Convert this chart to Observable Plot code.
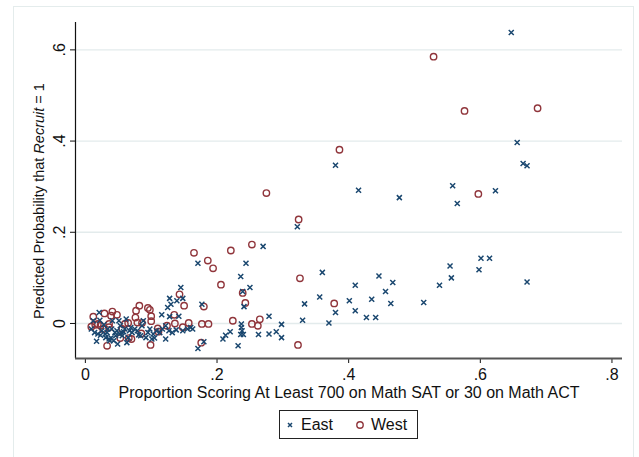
<!DOCTYPE html>
<html>
<head>
<meta charset="utf-8">
<script src="https://cdn.jsdelivr.net/npm/d3@7"></script>
<script src="https://cdn.jsdelivr.net/npm/@observablehq/plot@0.6"></script>
<style>
  body { margin: 0; background: #fff; font-family: "Liberation Sans", Arial, sans-serif; }
  #wrap { position: relative; width: 639px; height: 457px; overflow: hidden; background: #fff; }
  #border { position: absolute; left: 13px; top: 6px; width: 621px; height: 470px; border: 1px solid #e4ecec; box-sizing: border-box; }
  #chart { position: absolute; left: 0; top: 0; }
  #legend { position: absolute; left: 279px; top: 410px; width: 139px; height: 29px; border: 1px solid #222; box-sizing: border-box;
            display: flex; align-items: center; font-size: 16px; color: #111; background: #fff; }
  #legend .item { display: flex; align-items: center; }
  #legend svg { display: block; }
</style>
</head>
<body>
<div id="wrap">
  <div id="border"></div>
  <div id="chart"></div>
  <div id="legend"></div>
</div>
<script>
// ---- Data ----
const seriesNames = ["East", "West"];
const seriesColors = ["#1a476f", "#90353b"];
const xTicks = [0, 0.2, 0.4, 0.6, 0.8];
const yTicks = [0, 0.2, 0.4, 0.6];
const xLabel = "Proportion Scoring At Least 700 on Math SAT or 30 on Math ACT";

const eastX = [0.647,0.656,0.665,0.671,0.623,0.558,0.565,0.415,0.477,0.380,0.322,0.270,0.601,0.614,0.598,0.671,0.554,0.556,0.538,0.514,0.467,0.446,0.456,0.464,0.435,0.441,0.427,0.410,0.410,0.401,0.380,0.370,0.360,0.356,0.333,0.330,0.298,0.298,0.290,0.279,0.279,0.263,0.250,0.244,0.236,0.241,0.239,0.237,0.237,0.238,0.240,0.236,0.232,0.220,0.213,0.209,0.180,0.171,0.171,0.177,0.145,0.148,0.139,0.128,0.130,0.125,0.142,0.128,0.116,0.122,
  0.009,0.012,0.014,0.017,0.019,0.021,0.022,0.023,0.025,0.028,0.030,0.031,0.033,0.034,0.036,0.037,0.039,0.040,0.041,0.043,0.045,0.046,0.048,0.049,0.051,0.052,0.053,0.055,0.056,0.058,0.060,0.062,0.063,0.065,0.067,0.069,0.071,0.075,0.079,0.081,0.084,0.086,0.088,0.092,0.095,0.098,0.101,0.103,0.105,0.108,0.113,0.117,0.122,0.127,0.132,0.138,0.148,0.155,0.160,0.163];
const eastY = [0.638,0.397,0.351,0.346,0.291,0.302,0.263,0.292,0.276,0.347,0.212,0.169,0.143,0.143,0.118,0.091,0.126,0.100,0.084,0.046,0.090,0.104,0.070,0.044,0.053,0.013,0.013,0.028,0.084,0.050,0.024,0.001,0.112,0.058,0.043,0.007,-0.002,-0.031,-0.018,0.016,-0.023,-0.024,0.079,0.132,0.103,0.037,0.070,-0.001,-0.009,-0.016,-0.024,-0.024,-0.049,-0.018,-0.026,-0.034,-0.040,-0.055,0.132,0.042,0.079,0.055,0.050,0.055,0.042,0.035,0.016,0.015,0.019,-0.034,
  -0.012,0.006,-0.020,-0.039,-0.023,0.024,0.007,-0.026,-0.016,-0.003,-0.023,-0.031,-0.020,-0.012,-0.034,-0.038,-0.032,-0.012,0.006,-0.038,-0.020,-0.027,-0.016,-0.045,0.006,-0.023,-0.005,-0.020,-0.027,-0.018,-0.012,0.010,-0.042,-0.031,-0.016,-0.009,-0.020,-0.012,-0.016,-0.025,-0.027,-0.005,0.006,-0.031,-0.020,-0.012,-0.034,-0.023,-0.032,-0.016,-0.020,-0.012,-0.005,-0.016,-0.020,-0.014,-0.016,-0.012,-0.009,-0.012];

const westX = [0.529,0.576,0.687,0.386,0.597,0.275,0.324,0.253,0.221,0.165,0.186,0.194,0.206,0.326,0.239,0.243,0.378,0.323,0.224,0.253,0.265,0.262,0.177,0.187,0.180,0.176,0.143,0.150,0.135,0.136,0.148,0.157,0.124,0.110,0.111,0.099,0.100,0.100,0.086,0.085,0.082,0.095,0.098,0.077,0.076,0.079,0.065,0.060,0.066,0.070,0.053,0.056,0.048,0.041,0.039,0.036,0.036,0.029,0.033,0.027,0.023,0.019,0.012,0.009,0.015];
const westY = [0.585,0.466,0.472,0.381,0.284,0.286,0.228,0.173,0.160,0.155,0.138,0.121,0.085,0.099,0.067,0.045,0.044,-0.047,0.006,-0.001,0.009,-0.005,-0.001,-0.001,0.037,-0.042,0.064,0.039,0.019,0.000,-0.008,0.001,-0.005,-0.011,-0.018,-0.047,0.016,0.005,0.001,-0.022,0.039,0.034,0.030,0.028,0.013,0.002,0.001,-0.001,-0.032,-0.034,-0.032,-0.012,0.019,0.026,0.017,-0.001,-0.008,0.022,-0.049,-0.012,-0.005,-0.001,0.015,-0.007,-0.003];

const xDomain = [-0.015, 0.816];
const yDomain = [-0.0768, 0.66];

const east = eastX.map((x, i) => ({x, y: eastY[i]}));
const west = westX.map((x, i) => ({x, y: westY[i]}));
const fmt = d => d === 0 ? "0" : String(d).replace(/^0\./, ".").replace(/^-0\./, "-.");

const plot = Plot.plot({
  width: 639,
  height: 410,
  marginLeft: 75,
  marginRight: 17,
  marginTop: 22,
  marginBottom: 52,
  style: {fontFamily: "'Liberation Sans', Arial, sans-serif", background: "transparent", color: "#111", overflow: "visible"},
  x: {domain: xDomain},
  y: {domain: yDomain},
  marks: [
    Plot.gridY(yTicks, {stroke: "#e3ebec", strokeOpacity: 1, strokeWidth: 1.3}),
    Plot.axisX(xTicks, {tickSize: 5, tickPadding: 5, tickFormat: fmt, fontSize: 16, stroke: "#111",
      label: xLabel, labelAnchor: "center", labelArrow: "none", labelOffset: 39}),
    Plot.axisY(yTicks, {tickSize: 5, tickPadding: 6, tickFormat: fmt, fontSize: 16, tickRotate: -90, label: null, stroke: "#111"}),
    Plot.ruleX([xDomain[0]], {stroke: "#111", strokeWidth: 1.2}),
    Plot.ruleY([yDomain[0]], {stroke: "#555", strokeWidth: 2}),
    Plot.dot(west, {x: "x", y: "y", r: 3.2, stroke: seriesColors[1], strokeWidth: 1.4, fill: "none", symbol: "circle"}),
    Plot.dot(east, {x: "x", y: "y", r: 2.4, stroke: seriesColors[0], strokeWidth: 1.5, symbol: "times"})
  ]
});
document.getElementById("chart").appendChild(plot);

// y-axis title with italic "Recruit"
const svg = d3.select(plot);
const yt = svg.append("text")
  .attr("transform", `translate(44, 201) rotate(-90)`)
  .attr("text-anchor", "middle")
  .attr("font-size", 14.5)
  .attr("fill", "#111");
yt.append("tspan").text("Predicted Probability that ");
yt.append("tspan").attr("font-style", "italic").text("Recruit");
yt.append("tspan").text(" = 1");

// legend
const legend = d3.select("#legend");
seriesNames.forEach((name, i) => {
  const item = legend.append("div").attr("class", "item").style("margin-left", i === 0 ? "5px" : "22px");
  const s = item.append("svg").attr("width", 10).attr("height", 10);
  if (i === 0) {
    s.append("path").attr("d", "M3,3L7,7M7,3L3,7").attr("stroke", seriesColors[0]).attr("stroke-width", 1.5);
  } else {
    s.append("circle").attr("cx", 5).attr("cy", 5).attr("r", 3.2).attr("fill", "none").attr("stroke", seriesColors[1]).attr("stroke-width", 1.4);
  }
  item.append("span").style("margin-left", "6px").text(name);
});
</script>
</body>
</html>
